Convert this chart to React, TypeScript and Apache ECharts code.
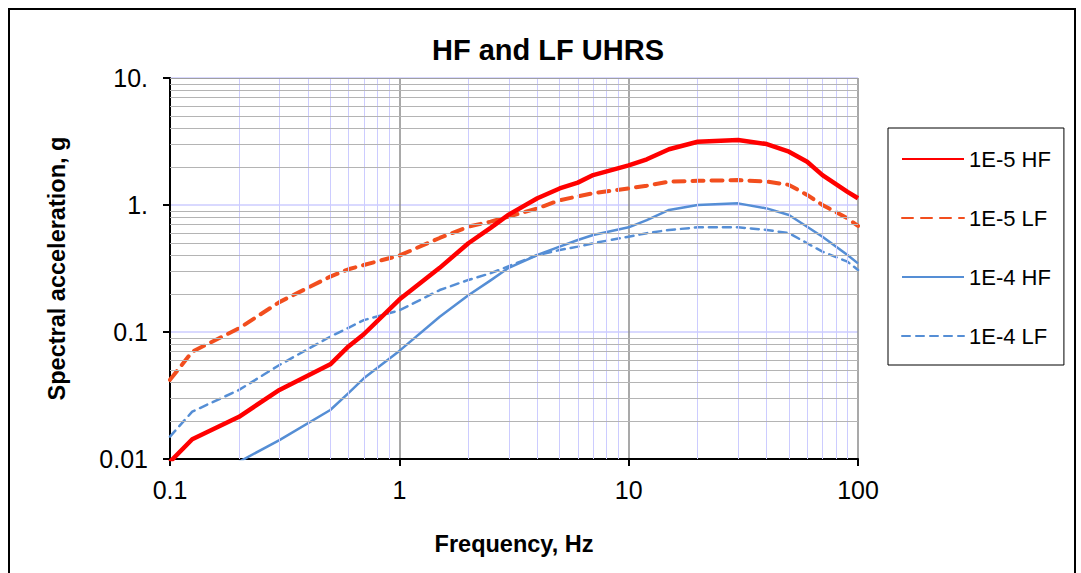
import React, { useEffect, useRef } from "react";
import * as echarts from "echarts";

const FONT = "'Liberation Sans', Arial, Helvetica, sans-serif";

const seriesNames = ["1E-5 HF", "1E-5 LF", "1E-4 HF", "1E-4 LF"];

const freqs = [0.1, 0.125, 0.2, 0.3, 0.5, 0.6, 0.7, 1, 1.5, 2, 2.5, 3, 4, 5, 6, 7, 10, 12, 15, 20, 30, 40, 50, 60, 70, 90, 100];

const hf5 = [0.0095, 0.0143, 0.0215, 0.035, 0.0557, 0.077, 0.096, 0.18, 0.32, 0.5, 0.66, 0.84, 1.13, 1.35, 1.5, 1.72, 2.05, 2.29, 2.75, 3.15, 3.25, 3.02, 2.63, 2.19, 1.72, 1.27, 1.13];
const lf5 = [0.042, 0.07, 0.107, 0.172, 0.273, 0.312, 0.337, 0.4, 0.55, 0.675, 0.74, 0.81, 0.94, 1.09, 1.17, 1.24, 1.35, 1.42, 1.53, 1.55, 1.57, 1.53, 1.44, 1.2, 1.0, 0.786, 0.684];
const hf4 = [0.0051, 0.0063, 0.0095, 0.0141, 0.0243, 0.033, 0.0432, 0.071, 0.132, 0.195, 0.255, 0.32, 0.404, 0.47, 0.53, 0.58, 0.667, 0.76, 0.914, 1.0, 1.03, 0.94, 0.834, 0.675, 0.563, 0.404, 0.347];
const lf4 = [0.015, 0.0236, 0.035, 0.055, 0.092, 0.108, 0.124, 0.148, 0.214, 0.257, 0.29, 0.33, 0.404, 0.442, 0.47, 0.5, 0.563, 0.6, 0.636, 0.667, 0.667, 0.636, 0.6, 0.5, 0.429, 0.358, 0.308];

const xMinor = [0.2, 0.3, 0.4, 0.5, 0.6, 0.7, 0.8, 0.9, 2, 3, 4, 5, 6, 7, 8, 9, 20, 30, 40, 50, 60, 70, 80, 90];
const yMinor = [0.02, 0.03, 0.04, 0.05, 0.06, 0.07, 0.08, 0.09, 0.2, 0.3, 0.4, 0.5, 0.6, 0.7, 0.8, 0.9, 2, 3, 4, 5, 6, 7, 8, 9];

const xTickLabels: Record<string, string> = { "0.1": "0.1", "1": "1", "10": "10", "100": "100" };
const yTickLabels: Record<string, string> = { "0.01": "0.01", "0.1": "0.1", "1": "1.", "10": "10." };

const key = (v: number) => String(Number(v.toPrecision(3)));

export default function App() {
  const ref = useRef<HTMLDivElement>(null);
  useEffect(() => {
    if (!ref.current) return;
    const chart = echarts.init(ref.current, undefined, { renderer: "svg" });
    const pairs = (vals: number[]) => freqs.map((f, i) => [f, vals[i]]);
    const gridLines: any[] = [
      ...xMinor.map((v) => ({ xAxis: v, lineStyle: { color: "#ccccff", width: 1, type: "solid" } })),
      ...yMinor.map((v) => ({ yAxis: v, lineStyle: { color: "#b4b4b4", width: 1, type: "solid" } })),
      { yAxis: 10, lineStyle: { color: "#a0a0a0", width: 1, type: "solid" } },
    ];
    const option: any = {
      animation: false,
      backgroundColor: "#ffffff",
      textStyle: { fontFamily: FONT },
      title: {
        text: "HF and LF UHRS",
        left: 548,
        top: 35,
        padding: 0,
        textAlign: "center",
        textStyle: { fontSize: 29, fontWeight: "bold", color: "#000", fontFamily: FONT },
      },
      graphic: [
        {
          type: "rect",
          shape: { x: 9, y: 9, width: 1066, height: 620 },
          style: { fill: "none", stroke: "#000", lineWidth: 2 },
          silent: true,
        },
      ],
      grid: { left: 170, top: 78, width: 688, height: 381, containLabel: false, outerBoundsMode: "none" },
      legend: {
        data: seriesNames,
        orient: "vertical",
        left: 888,
        top: 128,
        padding: [20, 13, 18, 13],
        itemGap: 37,
        itemWidth: 62,
        itemHeight: 14,
        borderColor: "#000",
        borderWidth: 1,
        selectedMode: false,
        itemStyle: { opacity: 0 },
        textStyle: { fontSize: 22, color: "#000", fontFamily: FONT },
      },
      xAxis: {
        type: "log",
        logBase: 10,
        min: 0.1,
        max: 100,
        name: "Frequency, Hz",
        nameLocation: "middle",
        nameGap: 73,
        nameTextStyle: { fontSize: 23.5, fontWeight: "bold", color: "#000", fontFamily: FONT },
        axisLine: { show: true, lineStyle: { color: "#000", width: 2 } },
        axisTick: { show: true, inside: false, length: 7, lineStyle: { color: "#000", width: 2 } },
        axisLabel: {
          fontSize: 25,
          color: "#000",
          margin: 18,
          fontFamily: FONT,
          formatter: (v: number) => xTickLabels[key(v)] ?? key(v),
        },
        splitLine: { show: true, lineStyle: { color: "#8c8c8c", width: 1.5 } },
      },
      yAxis: {
        type: "log",
        logBase: 10,
        min: 0.01,
        max: 10,
        name: "Spectral acceleration, g",
        nameLocation: "middle",
        nameGap: 101,
        nameTextStyle: { fontSize: 23.5, fontWeight: "bold", color: "#000", fontFamily: FONT },
        axisLine: { show: true, lineStyle: { color: "#000", width: 2 } },
        axisTick: { show: true, inside: false, length: 7, lineStyle: { color: "#000", width: 2 } },
        axisLabel: {
          fontSize: 25,
          color: "#000",
          margin: 22,
          fontFamily: FONT,
          formatter: (v: number) => yTickLabels[key(v)] ?? key(v),
        },
        splitLine: { show: true, lineStyle: { color: "#ccccff", width: 1.5 } },
      },
      series: [
        {
          name: "_grid",
          type: "line",
          data: [[1, 1]],
          symbol: "none",
          silent: true,
          z: 1,
          lineStyle: { opacity: 0 },
          markLine: {
            silent: true,
            symbol: ["none", "none"],
            label: { show: false },
            emphasis: { disabled: true },
            animation: false,
            data: gridLines,
          },
        },
        {
          name: seriesNames[0],
          type: "line",
          data: pairs(hf5),
          symbol: "none",
          z: 5,
          clip: true,
          color: "#ff0000",
          lineStyle: { color: "#ff0000", width: 4.5, type: "solid", join: "round" },
        },
        {
          name: seriesNames[1],
          type: "line",
          data: pairs(lf5),
          symbol: "none",
          z: 4,
          clip: true,
          color: "#f24e1e",
          lineStyle: { color: "#f24e1e", width: 4, type: [11, 8], cap: "round", join: "round" },
        },
        {
          name: seriesNames[2],
          type: "line",
          data: pairs(hf4),
          symbol: "none",
          z: 4,
          clip: true,
          color: "#558ed5",
          lineStyle: { color: "#558ed5", width: 2.5, type: "solid", join: "round" },
        },
        {
          name: seriesNames[3],
          type: "line",
          data: pairs(lf4),
          symbol: "none",
          z: 3,
          clip: true,
          color: "#558ed5",
          lineStyle: { color: "#558ed5", width: 2.5, type: [8, 6], cap: "round", join: "round" },
        },
      ],
    };
    chart.setOption(option);
    return () => chart.dispose();
  }, []);
  return (
    <div
      ref={ref}
      style={{ position: "absolute", left: 0, top: 0, width: 1081, height: 573, background: "#fff" }}
    />
  );
}
